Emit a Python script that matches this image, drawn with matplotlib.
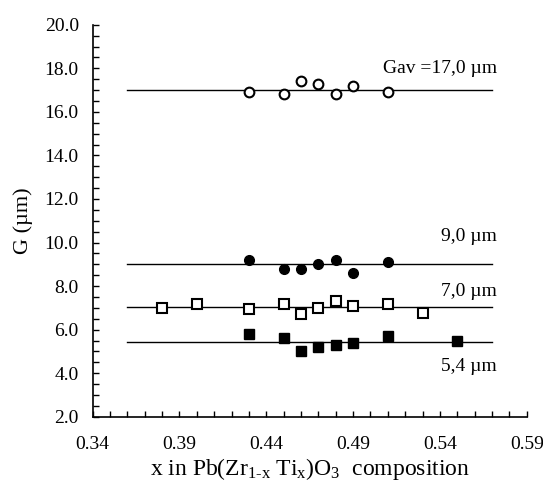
"""Grain size vs PZT composition."""
import matplotlib
matplotlib.use('Agg')
import matplotlib.pyplot as plt
import numpy as np
from matplotlib.ticker import FixedLocator, MultipleLocator, FormatStrFormatter

plt.rcParams['font.family'] = ['Liberation Serif', 'DejaVu Serif']
plt.rcParams['mathtext.fontset'] = 'custom'
plt.rcParams['mathtext.rm'] = 'Liberation Serif'
plt.rcParams['mathtext.it'] = 'Liberation Serif:italic'

# data
x_open_circ = [0.43, 0.45, 0.46, 0.47, 0.48, 0.49, 0.51]
g_open_circ = [16.9, 16.8, 17.4, 17.3, 16.8, 17.2, 16.9]

x_fill_circ = [0.43, 0.45, 0.46, 0.47, 0.48, 0.49, 0.51]
g_fill_circ = [9.2, 8.8, 8.8, 9.0, 9.2, 8.6, 9.1]

x_open_sq = [0.38, 0.40, 0.43, 0.45, 0.46, 0.47, 0.48, 0.49, 0.51, 0.53]
g_open_sq = [7.0, 7.2, 6.95, 7.2, 6.7, 7.0, 7.3, 7.1, 7.2, 6.75]

x_fill_sq = [0.43, 0.45, 0.46, 0.47, 0.48, 0.49, 0.51, 0.55]
g_fill_sq = [5.8, 5.6, 5.0, 5.2, 5.3, 5.4, 5.7, 5.5]

averages = [17.0, 9.0, 7.05, 5.42]
avg_labels = ['Gav =17,0 \u00b5m', '9,0 \u00b5m', '7,0 \u00b5m', '5,4 \u00b5m']
label_y = [18.0, 10.3, 7.75, 4.3]
line_x = [0.36, 0.57]

x_ticks = [0.34, 0.39, 0.44, 0.49, 0.54, 0.59]
x_minor = np.arange(0.34, 0.5901, 0.01)

fig = plt.figure(figsize=(5.43, 4.95), dpi=100)
ax = fig.add_axes([0.1707, 0.158, 0.7993, 0.792])

for g in averages:
    ax.plot(line_x, [g, g], color='black', lw=1.0, zorder=1)

ms = 7
ax.plot(x_open_circ, g_open_circ, 'o', ms=ms, mfc='white', mec='black', mew=1.5, zorder=3)
ax.plot(x_fill_circ, g_fill_circ, 'o', ms=ms, mfc='black', mec='black', zorder=3)
ax.plot(x_open_sq, g_open_sq, 's', ms=ms, mfc='white', mec='black', mew=1.5, zorder=3)
ax.plot(x_fill_sq, g_fill_sq, 's', ms=ms, mfc='black', mec='black', zorder=3)

for lab, ly in zip(avg_labels, label_y):
    ax.text(0.573, ly, lab, ha='right', va='center', fontsize=14)

ax.set_xlim(0.34, 0.59)
ax.set_ylim(2.0, 20.0)
ax.xaxis.set_major_locator(FixedLocator(x_ticks))
ax.xaxis.set_minor_locator(FixedLocator(x_minor))
ax.yaxis.set_major_locator(MultipleLocator(2.0))
ax.yaxis.set_minor_locator(MultipleLocator(0.5))
ax.xaxis.set_major_formatter(FormatStrFormatter('%.2f'))
ax.yaxis.set_major_formatter(FormatStrFormatter('%.1f'))
ax.tick_params(which='both', direction='in', length=4, width=1, labelsize=14)
ax.tick_params(axis='y', pad=10)
ax.tick_params(axis='x', pad=14)

ax.spines['top'].set_visible(False)
ax.spines['right'].set_visible(False)
ax.spines['left'].set_linewidth(1.2)
ax.spines['bottom'].set_linewidth(1.2)

ax.set_ylabel('G (\u00b5m)', fontsize=16, labelpad=8)
ax.set_xlabel(r'x in Pb(Zr$_{\mathrm{1\text{-}x}}$ Ti$_{\mathrm{x}}$)O$_{\mathrm{3}}$  composition',
              fontsize=17, labelpad=2)

plt.savefig('out.png', dpi=100)
print("Generated: out.png")
